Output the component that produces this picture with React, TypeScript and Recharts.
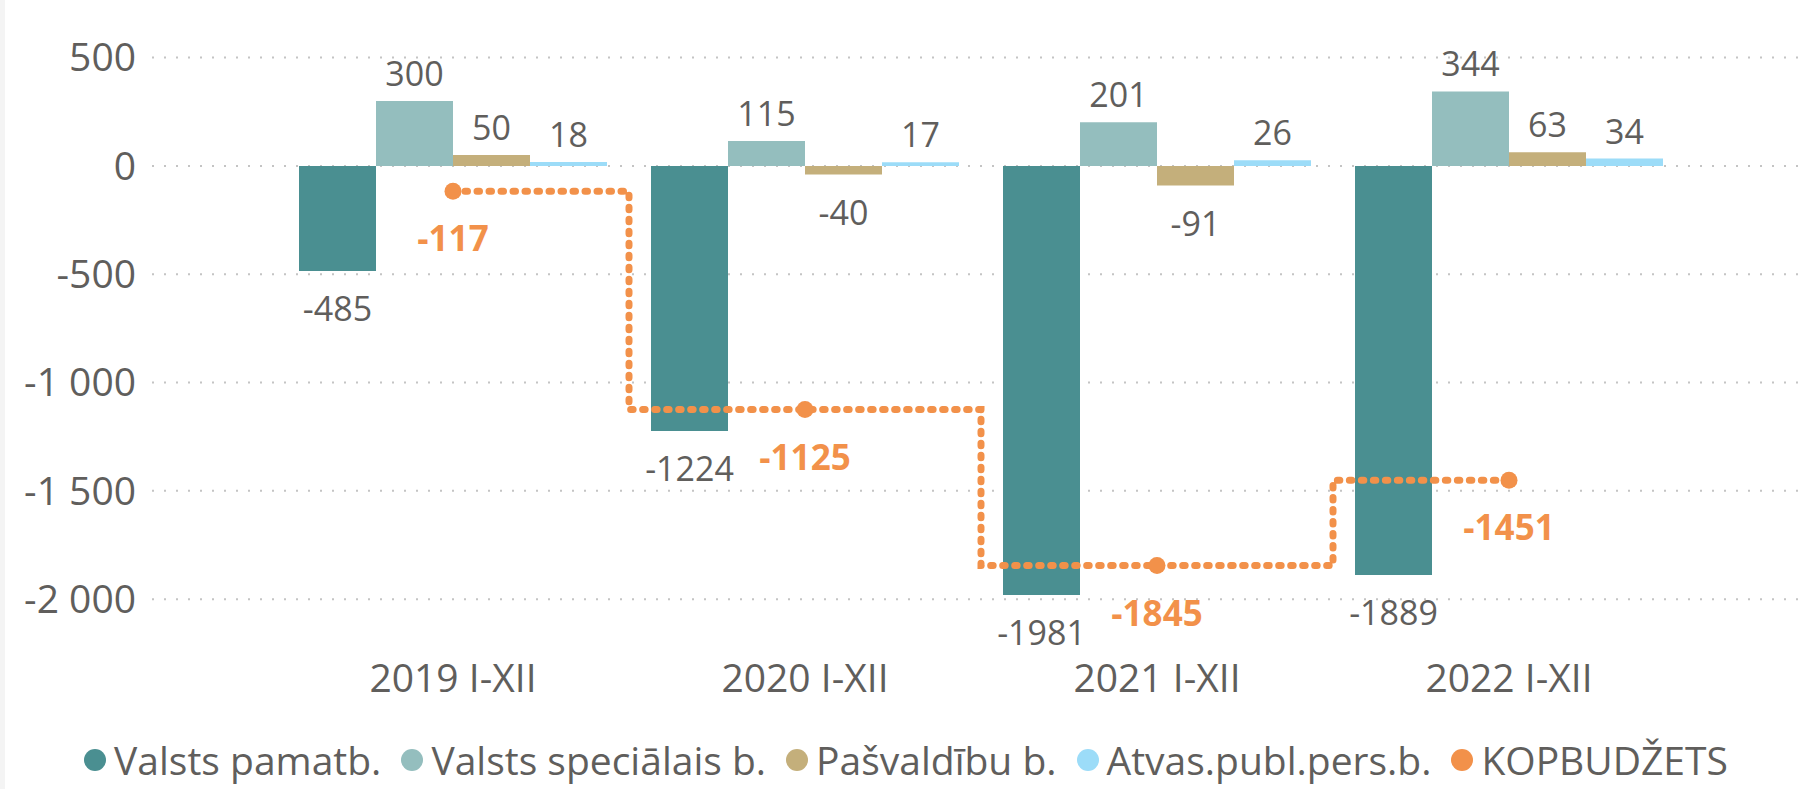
import React from 'react';
import { ComposedChart, Bar, Line, XAxis, YAxis, CartesianGrid, LabelList } from 'recharts';

const categories = ['2019 I-XII', '2020 I-XII', '2021 I-XII', '2022 I-XII'];
const valstsPamatb = [-485, -1224, -1981, -1889];
const valstsSpecialais = [300, 115, 201, 344];
const pasvaldibu = [50, -40, -91, 63];
const atvasPubl = [18, 17, 26, 34];
const kopbudzets = [-117, -1125, -1845, -1451];
const yTicks = [-2000, -1500, -1000, -500, 0, 500];

const FONT = "'Segoe UI', 'Open Sans', sans-serif";
const TEXT = '#605E5C';
const ORANGE = '#F2914A';

const barSeries = [
  { key: 'pamatb', name: 'Valsts pamatb.', color: '#4A8F91', values: valstsPamatb },
  { key: 'special', name: 'Valsts speciālais b.', color: '#94BEBE', values: valstsSpecialais },
  { key: 'pasv', name: 'Pašvaldību b.', color: '#C4AF7B', values: pasvaldibu },
  { key: 'atvas', name: 'Atvas.publ.pers.b.', color: '#9CDCF8', values: atvasPubl },
];
const legendItems = [
  ...barSeries.map(s => ({ name: s.name, color: s.color })),
  { name: 'KOPBUDŽETS', color: ORANGE },
];

const data = categories.map((c, i) => {
  const row: any = { cat: c, kop: kopbudzets[i] };
  barSeries.forEach(s => { row[s.key] = s.values[i]; });
  return row;
});

// thousands with a space, like "-1 500"
const fmtAxis = (v: number) => {
  const s = Math.abs(v).toString().replace(/\B(?=(\d{3})+(?!\d))/g, ' ');
  return (v < 0 ? '-' : '') + s;
};

const box = (props: any) => {
  const vb = props.viewBox || {};
  return {
    x: vb.x ?? props.x,
    y: vb.y ?? props.y,
    width: vb.width ?? props.width ?? 0,
    height: vb.height ?? props.height ?? 0,
  };
};

const BarLabel = (props: any) => {
  const { x, y, width, height } = box(props);
  const value = Number(props.value);
  const top = Math.min(y, y + height);
  const bottom = Math.max(y, y + height);
  const ty = value >= 0 ? top - 15 : bottom + 50;
  return (
    <text x={x + width / 2} y={ty} textAnchor="middle" fill={TEXT} fontSize={34} fontFamily={FONT}>
      {value}
    </text>
  );
};

const LineLabel = (props: any) => {
  const { x, y } = box(props);
  return (
    <text x={x} y={y + 60} textAnchor="middle" fill={ORANGE} fontSize={35} fontWeight={700} fontFamily={FONT}>
      {props.value}
    </text>
  );
};

export default function App() {
  return (
    <div style={{ position: 'absolute', left: 0, top: 0, width: 1806, height: 789, background: '#fff', fontFamily: FONT }}>
      <div style={{ position: 'absolute', left: 0, top: 0, width: 5, height: 789, background: '#F4F4F4' }} />
      <ComposedChart
        width={1806}
        height={789}
        data={data}
        margin={{ top: 57.6, right: 0, bottom: 85.7, left: 0 }}
        barGap={0}
        barCategoryGap={22}
      >
        <CartesianGrid
          vertical={false}
          horizontalValues={yTicks}
          stroke="#C4C4C4"
          strokeWidth={2}
          strokeDasharray="2 10"
        />
        <XAxis
          dataKey="cat"
          axisLine={false}
          tickLine={false}
          height={50}
          tickMargin={5}
          padding={{ left: 125, right: 121 }}
          tick={{ fill: TEXT, fontSize: 39, fontFamily: FONT }}
        />
        <YAxis
          domain={[-2250, 500]}
          ticks={yTicks}
          allowDataOverflow
          axisLine={false}
          tickLine={false}
          width={152}
          tickMargin={10}
          tickFormatter={fmtAxis}
          tick={{ fill: TEXT, fontSize: 39, fontFamily: FONT }}
        />
        {barSeries.map(s => (
          <Bar key={s.key} dataKey={s.key} name={s.name} fill={s.color} isAnimationActive={false}>
            <LabelList dataKey={s.key} content={BarLabel} />
          </Bar>
        ))}
        <Line
          type="step"
          dataKey="kop"
          name="KOPBUDŽETS"
          stroke={ORANGE}
          strokeWidth={7}
          strokeDasharray="2.5 9.5"
          strokeLinecap="round"
          dot={{ r: 8.5, fill: ORANGE, stroke: 'none', strokeWidth: 0, strokeDasharray: '' }}
          activeDot={false}
          isAnimationActive={false}
        >
          <LabelList dataKey="kop" content={LineLabel} />
        </Line>
      </ComposedChart>
      <div
        style={{
          position: 'absolute',
          left: 0,
          top: 736,
          width: 1806,
          display: 'flex',
          justifyContent: 'center',
          gap: 20,
          paddingLeft: 6,
          boxSizing: 'border-box',
        }}
      >
        {legendItems.map(it => (
          <div key={it.name} style={{ display: 'flex', alignItems: 'center', gap: 8 }}>
            <span style={{ width: 22, height: 22, borderRadius: 11, background: it.color, display: 'inline-block' }} />
            <span style={{ fontSize: 39, color: TEXT, lineHeight: '48px' }}>{it.name}</span>
          </div>
        ))}
      </div>
    </div>
  );
}
